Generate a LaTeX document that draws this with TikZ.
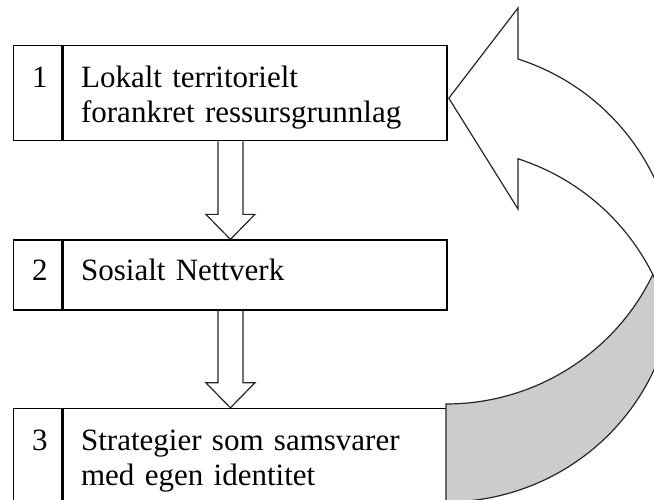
\documentclass[tikz,border=0pt]{standalone}
\usepackage{fontspec}
\setmainfont{Liberation Serif}
\usetikzlibrary{positioning, calc}

\begin{document}
\begin{tikzpicture}[x=1pt, y=1pt,
            every node/.style={font=\fontsize{31pt}{35pt}\selectfont},
            numcell/.style={
            draw, 
            line width=1.4pt,
            inner xsep=14pt,
            inner ysep=0pt,
            text width=20pt,
            align=right,
            text height=42pt},
            textcell/.style={
            draw, 
            line width=1.4pt,
            inner xsep=18pt,
            inner ysep=0pt,
            text width=348pt,
            align=left,
            text height=42pt},
            blockarrow/.style={draw=black!85, line width=1.2pt},
            curvearrow/.style={draw=black!85, line width=1.2pt}]
            \useasboundingbox (0,0) rectangle (654,500);
            \clip (0,0) rectangle (654,500);
            % the three steps
            \node[numcell, anchor=north west, text depth=53pt] (n1) at (13,455) {1};
            \node[textcell, text depth=53pt, right=0pt of n1] (t1) {Lokalt territorielt\\forankret ressursgrunnlag};
            \node[numcell, text height=40pt, text depth=30pt, below=98pt of n1] (n2) {2};
            \node[textcell, text height=40pt, text depth=30pt, right=0pt of n2] (t2) {Sosialt Nettverk};
            \node[numcell, text depth=55pt, below=97pt of n2] (n3) {3};
            \node[textcell, text depth=55pt, right=0pt of n3] (t3) {Strategier som samsvarer\\med egen identitet};
            % block arrows between the steps
            \draw[blockarrow] let \p1=($(n1.south west)!.5!(t1.south east)$), \p2=(t2.north) in
                (\x1-12.5pt,\y1) -- (\x1-12.5pt,\y2+25pt) -- (\x1-24.5pt,\y2+25pt) -- (\x1,\y2)
                -- (\x1+24.5pt,\y2+25pt) -- (\x1+12.5pt,\y2+25pt) -- (\x1+12.5pt,\y1);
            \draw[blockarrow] let \p1=($(n2.south west)!.5!(t2.south east)$), \p2=(t3.north) in
                (\x1-12.5pt,\y1) -- (\x1-12.5pt,\y2+25pt) -- (\x1-24.5pt,\y2+25pt) -- (\x1,\y2)
                -- (\x1+24.5pt,\y2+25pt) -- (\x1+12.5pt,\y2+25pt) -- (\x1+12.5pt,\y1);
            % curved arrow back to step 1
            \coordinate (tip) at ([xshift=1pt, yshift=-5pt]t1.east);
            \draw[curvearrow, fill=black!20] (446,96)
                arc[start angle=-90, end angle=-12.47, x radius=229, y radius=227]
                arc[start angle=12.47, end angle=-90, x radius=229, y radius=227] -- cycle;
            \draw[curvearrow, fill=white] (tip) -- (518,492) -- (518,441)
                arc[start angle=72, end angle=-12.7, x radius=229, y radius=227]
                arc[start angle=12.7, end angle=72, x radius=229, y radius=227]
                -- (518,291) -- cycle;
        \end{tikzpicture}
\end{document}
